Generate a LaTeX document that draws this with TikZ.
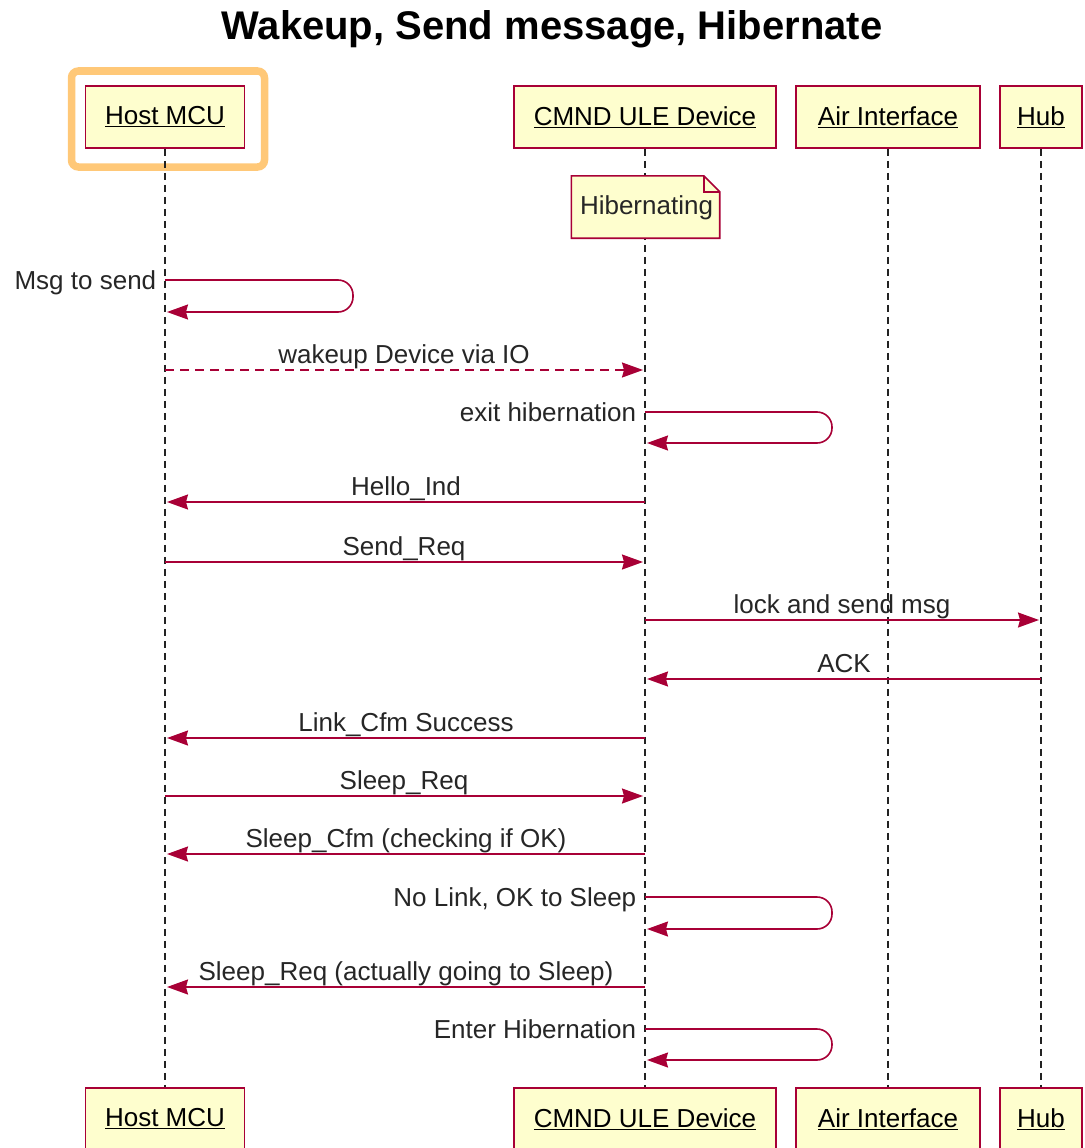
\documentclass[tikz,border=0pt]{standalone}
\usepackage{fontspec}
\setmainfont{Liberation Sans}
\usetikzlibrary{arrows.meta,calc}
\definecolor{bord}{HTML}{A80036}
\definecolor{pfill}{HTML}{FEFECE}
\definecolor{hilite}{HTML}{FFC878}
\definecolor{lifegray}{HTML}{222222}
\begin{document}
\begin{tikzpicture}[x=1pt,y=-1pt,
  part/.style={draw=bord, fill=pfill, line width=1.6pt, minimum height=62pt, inner sep=0pt,
    font=\fontsize{26}{31}\selectfont},
  lifeline/.style={draw=lifegray, line width=1.8pt, dash pattern=on 7pt off 5pt},
  msg/.style={draw=bord, line width=1.6pt, -{Stealth[length=21pt,width=15pt,inset=2pt]}},
  dmsg/.style={msg, dash pattern=on 9pt off 6pt},
  selfmsg/.style={msg, rounded corners=15pt},
  lbl/.style={anchor=base, yshift=7pt, inner sep=0pt, text=black!85, font=\fontsize{26}{31}\selectfont},
  slbl/.style={anchor=base east, inner sep=0pt, xshift=-8pt, yshift=-9pt, text=black!85, font=\fontsize{26}{31}\selectfont},
  notebox/.style={minimum width=148pt, minimum height=62pt, inner sep=0pt, font=\fontsize{26}{31}\selectfont},
  title/.style={anchor=base, inner sep=0pt, font=\fontsize{40}{46}\selectfont\bfseries}
]
\useasboundingbox (0,0) rectangle (1084,1148);
\fill[white] (0,0) rectangle (1084,1148);

\node[title] (title) at (552,40) {Wakeup, Send message, Hibernate};

% highlight around Host MCU
\draw[hilite, line width=7.5pt, rounded corners=7pt] (71.5,71) rectangle (264.5,167);

% participants (top)
\node[part, minimum width=159pt] (hostT) at (165,117) {\underline{Host MCU}};
\node[part, minimum width=262pt] (devT) at (645,117) {\underline{CMND ULE Device}};
\node[part, minimum width=184pt] (airT) at (888,117) {\underline{Air Interface}};
\node[part, minimum width=82pt] (hubT) at (1041,117) {\underline{Hub}};
% participants (bottom)
\node[part, minimum width=159pt] (hostB) at (165,1119) {\underline{Host MCU}};
\node[part, minimum width=262pt] (devB) at (645,1119) {\underline{CMND ULE Device}};
\node[part, minimum width=184pt] (airB) at (888,1119) {\underline{Air Interface}};
\node[part, minimum width=82pt] (hubB) at (1041,1119) {\underline{Hub}};

% lifelines
\draw[lifeline] (hostT.south) -- (hostB.north);
\draw[lifeline] (devT.south) -- (devB.north);
\draw[lifeline] (airT.south) -- (airB.north);
\draw[lifeline] (hubT.south) -- (hubB.north);

% note
\node[notebox] (note) at (645.5,207) {};
\filldraw[draw=bord, fill=pfill, line width=1.6pt]
  (note.north west) -- ($(note.north east)+(-16,0)$) -- ($(note.north east)+(0,16)$)
  -- (note.south east) -- (note.south west) -- cycle;
\draw[bord, line width=1.6pt] ($(note.north east)+(-16,0)$) -- ($(note.north east)+(-16,16)$) -- ($(note.north east)+(0,16)$);
\node[notebox, text=black!85] at ($(note.center)+(1,1)$) {Hibernating};

% message rows
\coordinate (r1) at (0,280);
\coordinate (r2) at (0,370);
\coordinate (r3) at (0,412);
\coordinate (r4) at (0,502);
\coordinate (r5) at (0,562);
\coordinate (r6) at (0,620);
\coordinate (r7) at (0,679);
\coordinate (r8) at (0,738);
\coordinate (r9) at (0,796);
\coordinate (r10) at (0,854);
\coordinate (r11) at (0,897);
\coordinate (r12) at (0,987);
\coordinate (r13) at (0,1029);

\draw[selfmsg] (hostT |- r1) node[slbl] {Msg to send} -- ++(188,0) -- ++(0,32) -- ++(-186,0);
\draw[dmsg] (hostT |- r2) -- node[lbl] {wakeup Device via IO} ($(devT |- r2)+(-2,0)$);
\draw[selfmsg] (devT |- r3) node[slbl] {exit hibernation} -- ++(187,0) -- ++(0,31) -- ++(-185,0);
\draw[msg] (devT |- r4) -- node[lbl] {Hello\_Ind} ($(hostT |- r4)+(2,0)$);
\draw[msg] (hostT |- r5) -- node[lbl] {Send\_Req} ($(devT |- r5)+(-2,0)$);
\draw[msg] (devT |- r6) -- node[lbl] {lock and send msg} ($(hubT |- r6)+(-2,0)$);
\draw[msg] (hubT |- r7) -- node[lbl] {ACK} ($(devT |- r7)+(2,0)$);
\draw[msg] (devT |- r8) -- node[lbl] {Link\_Cfm Success} ($(hostT |- r8)+(2,0)$);
\draw[msg] (hostT |- r9) -- node[lbl] {Sleep\_Req} ($(devT |- r9)+(-2,0)$);
\draw[msg] (devT |- r10) -- node[lbl] {Sleep\_Cfm (checking if OK)} ($(hostT |- r10)+(2,0)$);
\draw[selfmsg] (devT |- r11) node[slbl] {No Link, OK to Sleep} -- ++(187,0) -- ++(0,32) -- ++(-185,0);
\draw[msg] (devT |- r12) -- node[lbl] {Sleep\_Req (actually going to Sleep)} ($(hostT |- r12)+(2,0)$);
\draw[selfmsg] (devT |- r13) node[slbl] {Enter Hibernation} -- ++(187,0) -- ++(0,31) -- ++(-185,0);
\end{tikzpicture}
\end{document}
